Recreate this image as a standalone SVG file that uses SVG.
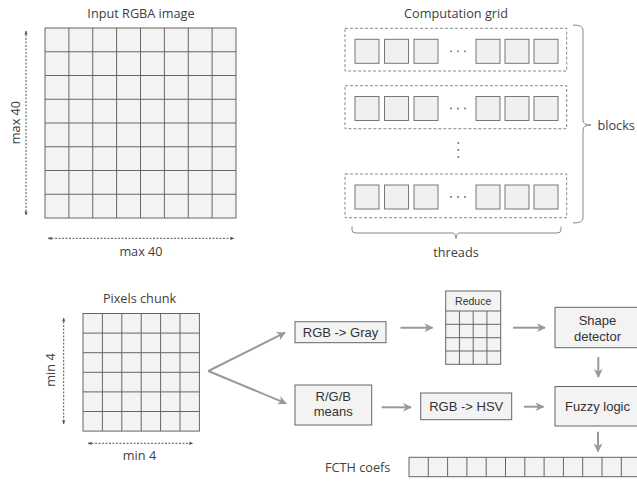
<svg xmlns="http://www.w3.org/2000/svg" width="637" height="481" viewBox="0 0 637 481">
<defs>
<style>
.lbl{font-family:"Open Sans","DejaVu Sans",sans-serif;font-size:12.7px;fill:#404040}
.bt{font-family:"Liberation Sans",Arial,sans-serif;font-size:13px;fill:#333}
.cell{fill:#f3f3f3;stroke:#666;stroke-width:1}
.gl{stroke:#666;stroke-width:1;fill:none}
.box{fill:#f3f3f3;stroke:#666;stroke-width:1}
.sq{fill:#f0f0f0;stroke:#777;stroke-width:1}
.blk{fill:none;stroke:#888;stroke-width:1;stroke-dasharray:3,2}
.dim{stroke:#555;stroke-width:1;stroke-dasharray:2,1.5;fill:none}
.arr{stroke:#999;stroke-width:2;fill:none}
.brace{stroke:#888;stroke-width:1;fill:none}
.dot{fill:#666}
</style>
<marker id="ah" viewBox="0 0 10 10" refX="9" refY="5" markerWidth="4.5" markerHeight="4.5" orient="auto" markerUnits="strokeWidth">
<path d="M0,0 L10,5 L0,10 L3,5 z" fill="#999"/>
</marker>
<marker id="dh" viewBox="0 0 10 10" refX="9" refY="5" markerWidth="4" markerHeight="4" orient="auto-start-reverse" markerUnits="userSpaceOnUse">
<path d="M0,1 L10,5 L0,9 z" fill="#555"/>
</marker>
</defs>

<g id="input-image">
<text class="lbl" x="141" y="18" text-anchor="middle">Input RGBA image</text>
<rect class="cell" x="45" y="28" width="191" height="190"/>
<path class="gl" d="M68.9,28V218M92.75,28V218M116.6,28V218M140.5,28V218M164.4,28V218M188.25,28V218M212.1,28V218M45,51.75H236M45,75.5H236M45,99.25H236M45,123H236M45,146.75H236M45,170.5H236M45,194.25H236"/>
<line class="dim" x1="26" y1="31" x2="26" y2="215" marker-start="url(#dh)" marker-end="url(#dh)"/>
<text class="lbl" transform="translate(19.5,122.5) rotate(-90)" text-anchor="middle">max 40</text>
<line class="dim" x1="48" y1="238.3" x2="234" y2="238.3" marker-start="url(#dh)" marker-end="url(#dh)"/>
<text class="lbl" x="141" y="256" text-anchor="middle">max 40</text>
</g>

<g id="computation-grid">
<text class="lbl" x="456" y="17.5" text-anchor="middle">Computation grid</text>
<rect class="blk" x="345" y="28.3" width="221.7" height="42.7"/>
<rect class="blk" x="345" y="85.7" width="221.7" height="43"/>
<rect class="blk" x="345" y="174" width="221.7" height="43.7"/>
<g>
<rect class="sq" x="355" y="39.3" width="24" height="24"/><rect class="sq" x="384.5" y="39.3" width="24" height="24"/><rect class="sq" x="414" y="39.3" width="24" height="24"/>
<rect class="sq" x="476" y="39.3" width="24" height="24"/><rect class="sq" x="505" y="39.3" width="24" height="24"/><rect class="sq" x="534" y="39.3" width="24" height="24"/>
<circle class="dot" cx="451" cy="51.3" r="0.9"/><circle class="dot" cx="458" cy="51.3" r="0.9"/><circle class="dot" cx="465" cy="51.3" r="0.9"/>
</g>
<g>
<rect class="sq" x="355" y="96.5" width="24" height="24"/><rect class="sq" x="384.5" y="96.5" width="24" height="24"/><rect class="sq" x="414" y="96.5" width="24" height="24"/>
<rect class="sq" x="476" y="96.5" width="24" height="24"/><rect class="sq" x="505" y="96.5" width="24" height="24"/><rect class="sq" x="534" y="96.5" width="24" height="24"/>
<circle class="dot" cx="451" cy="108.5" r="0.9"/><circle class="dot" cx="458" cy="108.5" r="0.9"/><circle class="dot" cx="465" cy="108.5" r="0.9"/>
</g>
<circle class="dot" cx="458.3" cy="143" r="0.9"/><circle class="dot" cx="458.3" cy="150" r="0.9"/><circle class="dot" cx="458.3" cy="157" r="0.9"/>
<g>
<rect class="sq" x="355" y="185" width="24" height="24"/><rect class="sq" x="384.5" y="185" width="24" height="24"/><rect class="sq" x="414" y="185" width="24" height="24"/>
<rect class="sq" x="476" y="185" width="24" height="24"/><rect class="sq" x="505" y="185" width="24" height="24"/><rect class="sq" x="534" y="185" width="24" height="24"/>
<circle class="dot" cx="451" cy="197" r="0.9"/><circle class="dot" cx="458" cy="197" r="0.9"/><circle class="dot" cx="465" cy="197" r="0.9"/>
</g>
<path class="brace" d="M573,25 Q583,25 583,30 L583,120 Q583,125 591,125 Q583,125 583,130 L583,218 Q583,223 573,223"/>
<text class="lbl" x="597.5" y="130">blocks</text>
<path class="brace" d="M352,226.5 L352,230 Q352,233 356,233 L452,233 Q456,233 456,238.5 Q456,233 460,233 L557,233 Q561,233 561,230 L561,226.5"/>
<text class="lbl" x="456" y="257" text-anchor="middle">threads</text>
</g>

<g id="pixels-chunk">
<text class="lbl" x="139.5" y="303" text-anchor="middle">Pixels chunk</text>
<rect class="cell" x="83" y="313.5" width="116.4" height="117.6"/>
<path class="gl" d="M102.4,313.5V431.1M121.8,313.5V431.1M141.2,313.5V431.1M160.6,313.5V431.1M180,313.5V431.1M83,333.1H199.4M83,352.7H199.4M83,372.3H199.4M83,391.9H199.4M83,411.5H199.4"/>
<line class="dim" x1="63.7" y1="318" x2="63.7" y2="424" marker-start="url(#dh)" marker-end="url(#dh)"/>
<text class="lbl" transform="translate(55.3,370) rotate(-90)" text-anchor="middle">min 4</text>
<line class="dim" x1="88" y1="443.3" x2="193" y2="443.3" marker-start="url(#dh)" marker-end="url(#dh)"/>
<text class="lbl" x="139.5" y="460" text-anchor="middle">min 4</text>
</g>

<g id="rgb-gray">
<rect class="box" x="295" y="321.7" width="91" height="21"/>
<text class="bt" x="340.5" y="336.6" text-anchor="middle">RGB -&gt; Gray</text>
</g>

<g id="reduce">
<rect class="cell" x="445.7" y="291" width="55" height="73.3"/>
<path class="gl" d="M445.7,311H500.7M445.7,324.3H500.7M445.7,337.7H500.7M445.7,351H500.7M459.45,311V364.3M473.2,311V364.3M486.95,311V364.3"/>
<text class="bt" x="473.2" y="305" text-anchor="middle" style="font-size:10.5px">Reduce</text>
</g>

<g id="shape-detector">
<rect class="box" x="555" y="307.3" width="90" height="40.4"/>
<text class="bt" x="597.5" y="325" text-anchor="middle">Shape</text>
<text class="bt" x="597.5" y="340.5" text-anchor="middle">detector</text>
</g>

<g id="rgb-means">
<rect class="box" x="295" y="385" width="76.7" height="40"/>
<text class="bt" x="333.3" y="401" text-anchor="middle">R/G/B</text>
<text class="bt" x="333.3" y="416" text-anchor="middle">means</text>
</g>

<g id="rgb-hsv">
<rect class="box" x="420.7" y="393" width="91" height="26.7"/>
<text class="bt" x="466.2" y="411" text-anchor="middle">RGB -&gt; HSV</text>
</g>

<g id="fuzzy-logic">
<rect class="box" x="555" y="386.5" width="90" height="39.5"/>
<text class="bt" x="597.5" y="410.8" text-anchor="middle">Fuzzy logic</text>
</g>

<g id="fcth-coefs">
<text class="lbl" x="325" y="471.5">FCTH coefs</text>
<rect class="cell" x="409" y="457.3" width="240" height="19.4"/>
<path class="gl" d="M428.3,457.3V476.7M447.6,457.3V476.7M466.9,457.3V476.7M486.2,457.3V476.7M505.5,457.3V476.7M524.8,457.3V476.7M544.1,457.3V476.7M563.4,457.3V476.7M582.7,457.3V476.7M602,457.3V476.7M621.3,457.3V476.7"/>
</g>

<g id="connectors">
<line class="arr" x1="208.3" y1="371" x2="285" y2="332.7" marker-end="url(#ah)"/>
<line class="arr" x1="208.3" y1="371" x2="286" y2="403.3" marker-end="url(#ah)"/>
<line class="arr" x1="400.5" y1="327.7" x2="432.5" y2="327.7" marker-end="url(#ah)"/>
<line class="arr" x1="513" y1="327.7" x2="545" y2="327.7" marker-end="url(#ah)"/>
<line class="arr" x1="598.3" y1="357" x2="598.3" y2="377" marker-end="url(#ah)"/>
<line class="arr" x1="381.7" y1="407.3" x2="411" y2="407.3" marker-end="url(#ah)"/>
<line class="arr" x1="524" y1="406.7" x2="543.5" y2="406.7" marker-end="url(#ah)"/>
<line class="arr" x1="598" y1="431.7" x2="598" y2="451.5" marker-end="url(#ah)"/>
</g>
</svg>
